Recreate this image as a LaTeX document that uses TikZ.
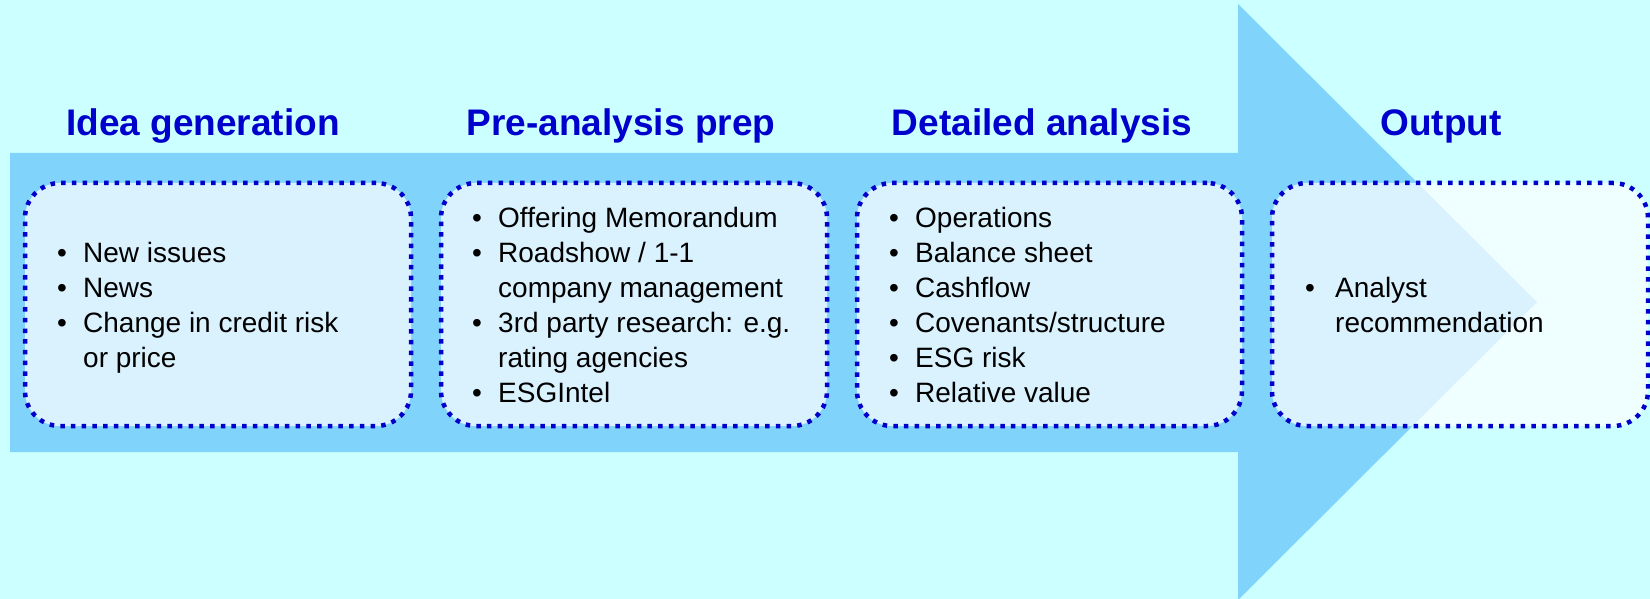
\documentclass[tikz,border=0pt]{standalone}
\usepackage{fontspec}
\setmainfont{Liberation Sans}
\definecolor{bg}{RGB}{204,255,255}
\definecolor{arrowblue}{RGB}{128,212,252}
\definecolor{darkblue}{RGB}{0,0,204}
\newcommand\bul{\makebox[26pt][l]{•}}
\newcommand\cont{\hspace*{26pt}}
\begin{document}
\begin{tikzpicture}[x=1pt,y=-1pt,
  stagebox/.style={draw=darkblue, fill=white, fill opacity=0.7, line width=4.5pt,
    dash pattern=on 4.5pt off 6.2pt, rounded corners=35pt, minimum height=243pt,
    inner sep=0pt, outer sep=0pt},
  title/.style={font=\fontsize{37}{44}\selectfont\bfseries, text=darkblue, anchor=base, inner sep=0pt},
  items/.style={anchor=base west, inner sep=0pt, font=\fontsize{28}{35.2}\selectfont}]
\fill[bg] (0,0) rectangle (1650,599);
\useasboundingbox (0,0) rectangle (1650,599);
% big arrow
\fill[arrowblue] (10,153) -- (1238,153) -- (1238,4) -- (1537,302) -- (1238,600)
  -- (1238,452) -- (10,452) -- cycle;
% titles
\node[title] (t1) at (203,136) {Idea generation};
\node[title] (t2) at (621,136) {Pre-analysis prep};
\node[title] (t3) at (1042,136) {Detailed analysis};
\node[title] (t4) at (1441,136) {Output};
% boxes
\node[stagebox, minimum width=386pt] (b1) at (218,304.5) {};
\node[stagebox, minimum width=386pt] (b2) at (634,304.5) {};
\node[stagebox, minimum width=385pt] (b3) at (1049.5,304.5) {};
\node[stagebox, minimum width=376pt] (b4) at (1460,304.5) {};
% items
\node[items] (i1) at (57,262) {\begin{minipage}[t]{340pt}
\bul New issues\\
\bul News\\
\bul Change in credit risk\\
\cont or price
\end{minipage}};
\node[items] (i2) at (472,227) {\begin{minipage}[t]{340pt}
\bul Offering Memorandum\\
\bul Roadshow / 1-1\\
\cont company management\\
\bul 3rd party research: e.g.\\
\cont rating agencies\\
\bul ESGIntel
\end{minipage}};
\node[items] (i3) at (889,227) {\begin{minipage}[t]{340pt}
\bul Operations\\
\bul Balance sheet\\
\bul Cashflow\\
\bul Covenants/structure\\
\bul ESG risk\\
\bul Relative value
\end{minipage}};
\node[items] (i4) at (1305,297) {\begin{minipage}[t]{330pt}
\makebox[30pt][l]{•}Analyst\\
\hspace*{30pt}recommendation
\end{minipage}};
\end{tikzpicture}
\end{document}
